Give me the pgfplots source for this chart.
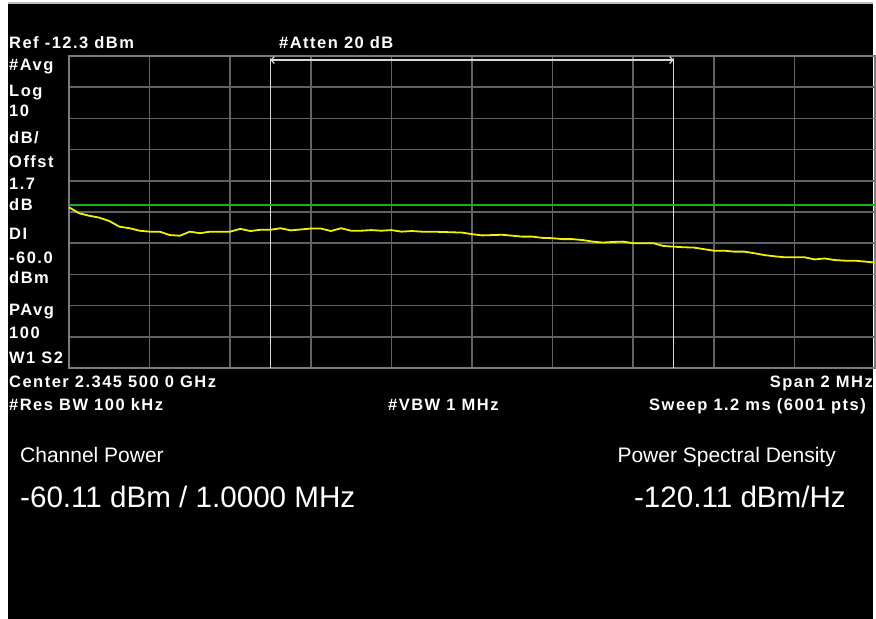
\documentclass[border=0pt]{standalone}
\usepackage{fontspec}
\setmainfont{Liberation Sans}
\newfontfamily\lblfont[LetterSpace=9]{Liberation Sans}
\usepackage{pgfplots}
\pgfplotsset{compat=1.18}
\usetikzlibrary{arrows.meta}
\definecolor{gridgray}{HTML}{626262}
\definecolor{framegray}{HTML}{7C7C7C}
\definecolor{topgray}{HTML}{BDBDBD}
\definecolor{mkwhite}{HTML}{D8D8D8}
\definecolor{dlgreen}{HTML}{14B414}
\definecolor{trace}{HTML}{F2F200}
\pgfplotstableread{
f p
-1000 -60.8
-975 -62.7
-950 -63.5
-925 -64.1
-900 -65.2
-875 -67.0
-850 -67.5
-825 -68.3
-800 -68.6
-775 -68.6
-750 -69.7
-725 -69.9
-700 -68.6
-675 -69.1
-650 -68.6
-625 -68.6
-600 -68.6
-575 -67.7
-550 -68.4
-525 -68.0
-500 -68.0
-475 -67.5
-450 -68.2
-425 -67.9
-400 -67.6
-375 -67.6
-350 -68.4
-325 -67.5
-300 -68.3
-275 -68.3
-250 -68.1
-225 -68.3
-200 -68.1
-175 -68.6
-150 -68.4
-125 -68.6
-100 -68.6
-75 -68.7
-50 -68.8
-25 -68.9
0 -69.4
25 -69.8
50 -69.7
75 -69.6
100 -69.9
125 -70.2
150 -70.2
175 -70.6
200 -70.7
225 -71.0
250 -71.0
275 -71.3
300 -71.8
325 -72.1
350 -71.9
375 -71.8
400 -72.3
425 -72.3
450 -72.3
475 -73.2
500 -73.4
525 -73.6
550 -73.7
575 -74.2
600 -74.7
625 -74.7
650 -75.0
675 -75.0
700 -75.5
725 -76.1
750 -76.5
775 -76.8
800 -76.8
825 -76.8
850 -77.5
875 -77.2
900 -77.7
925 -77.9
950 -77.9
975 -78.2
1000 -78.5
}\tracedata
\begin{document}
\begin{tikzpicture}[
  lab/.style={font=\lblfont\bfseries\fontsize{16.5bp}{18bp}\selectfont, text=white, inner sep=0pt, anchor=base west},
  big/.style={font=\fontsize{29.6bp}{32bp}\selectfont, text=white, inner sep=0pt, anchor=base west},
  mid/.style={font=\fontsize{21bp}{24bp}\selectfont, text=white, inner sep=0pt, anchor=base west}]
\useasboundingbox (0bp,0bp) rectangle (876bp,619bp);
\fill[white] (0bp,0bp) rectangle (876bp,619bp);
\fill[black] (8bp,0bp) rectangle (873bp,615bp);
\fill[topgray] (8bp,615bp) rectangle (873bp,617.3bp);
\begin{axis}[at={(69bp,251bp)}, anchor=south west, scale only axis,
  width=806bp, height=312bp,
  xmin=-1000, xmax=1000, ymin=-112.3, ymax=-12.3,
  xtick={-800,-600,...,800},
  ytick={-102.3,-92.3,-82.3,-72.3,-62.3,-52.3,-42.3,-32.3,-22.3},
  xticklabels={}, yticklabels={},
  major tick length=0pt,
  grid=major,
  grid style={color=gridgray, line width=1.5bp},
  axis line style={color=framegray, line width=2bp},
  clip=true]
\addplot[mkwhite, line width=1.5bp] coordinates {(-500,-112.3) (-500,-12.9)};
\addplot[mkwhite, line width=1.5bp] coordinates {(500,-112.3) (500,-12.9)};
\addplot[mkwhite, line width=1.2bp, {Straight Barb[length=3bp,width=7bp]}-{Straight Barb[length=3bp,width=7bp]}] coordinates {(-500,-13.6) (500,-13.6)};
\addplot[dlgreen, line width=2bp] coordinates {(-1000,-60.0) (1000,-60.0)};
\addplot[trace, line width=1.8bp] table[x=f, y=p] {\tracedata};
\end{axis}
\node[lab] at (9bp,570bp) {Ref -12.3 dBm};
\node[lab] at (279bp,570bp) {\#Atten 20 dB};
\node[lab] at (9bp,548bp) {\#Avg};
\node[lab] at (9bp,522bp) {Log};
\node[lab] at (9bp,502bp) {10};
\node[lab] at (9bp,475bp) {dB/};
\node[lab] at (9bp,451bp) {Offst};
\node[lab] at (9bp,429bp) {1.7};
\node[lab] at (9bp,408bp) {dB};
\node[lab] at (9bp,379bp) {DI};
\node[lab] at (9bp,355bp) {-60.0};
\node[lab] at (9bp,335bp) {dBm};
\node[lab] at (9bp,303bp) {PAvg};
\node[lab] at (9bp,280bp) {100};
\node[lab] at (9bp,255bp) {W1 S2};
\node[lab] at (9bp,231bp) {Center 2.345 500 0 GHz};
\node[lab, anchor=base east] at (873bp,231bp) {Span 2 MHz};
\node[lab] at (9bp,208bp) {\#Res BW 100 kHz};
\node[lab] at (388bp,208bp) {\#VBW 1 MHz};
\node[lab, anchor=base east] at (866bp,208bp) {Sweep 1.2 ms (6001 pts)};
\node[mid] at (20bp,156bp) {Channel Power};
\node[mid, anchor=base east] at (836bp,156bp) {Power Spectral Density};
\node[big] at (20bp,111bp) {-60.11 dBm / 1.0000 MHz};
\node[big, anchor=base east] at (846bp,111bp) {-120.11 dBm/Hz};
\end{tikzpicture}
\end{document}
